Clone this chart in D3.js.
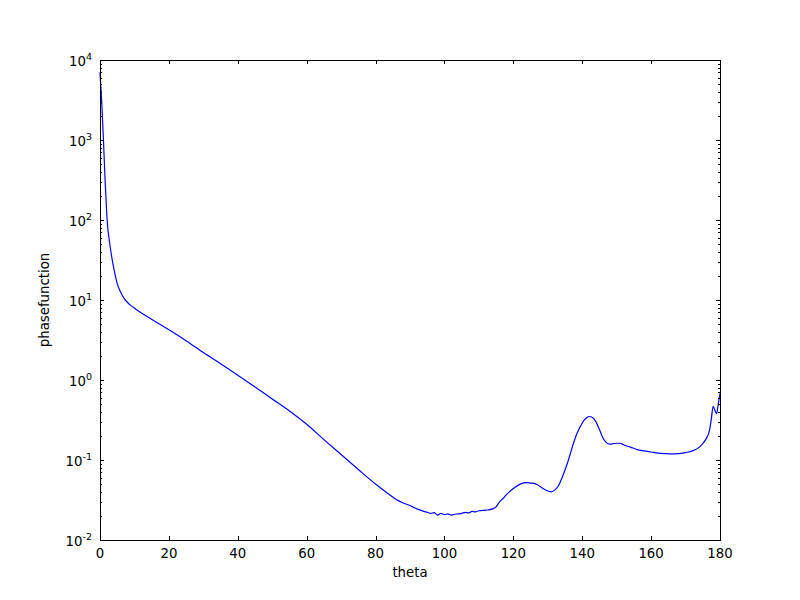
<!DOCTYPE html>
<html><head><meta charset="utf-8">
<script src="https://cdn.jsdelivr.net/npm/d3@7"></script>
<style>body{margin:0;background:#fff}svg{display:block}text{font-family:"DejaVu Sans",sans-serif;fill:#000}</style>
</head><body>
<svg id="c" width="800" height="600"></svg>
<script>
const theta = [0,0.5,1,1.5,2,3,4,5,6,7,8,9,10,12,14,16,18,20,25,30,35,40,45,50,55,60,65,70,75,80,82,84,86,88,90,92,94,95,96,97,98,99,100,101,102,103,104,105,106,107,108,109,110,112,114,115,116,117,118,120,122,124,125,126,127,128,129,130,131,132,133,134,135,136,137,138,139,140,141,142,143,144,145,146,147,148,149,150,151,152,154,156,158,160,162,164,166,168,170,172,174,175,176,177,177.5,178,178.5,179,179.5,180];
const phase = [7000,3000,1000,300,110,45,25,16,12.5,10.5,9.3,8.5,7.9,6.9,6.1,5.4,4.8,4.25,3.1,2.2,1.6,1.15,0.82,0.58,0.41,0.28,0.18,0.117,0.076,0.05,0.043,0.037,0.032,0.029,0.027,0.0245,0.0228,0.0222,0.0215,0.022,0.0205,0.0215,0.0208,0.0212,0.0205,0.021,0.0212,0.0215,0.0222,0.0218,0.0228,0.0225,0.0232,0.0236,0.0245,0.026,0.03,0.033,0.037,0.044,0.05,0.052,0.0515,0.051,0.049,0.046,0.043,0.041,0.04,0.042,0.047,0.058,0.075,0.1,0.14,0.19,0.24,0.29,0.33,0.35,0.34,0.3,0.24,0.19,0.165,0.158,0.16,0.162,0.162,0.155,0.145,0.135,0.13,0.126,0.122,0.12,0.119,0.12,0.124,0.13,0.145,0.16,0.185,0.24,0.33,0.47,0.42,0.38,0.5,0.68];
const xTicks = [0,20,40,60,80,100,120,140,160,180];
const yExps = [-2,-1,0,1,2,3,4];
const xLabel = "theta", yLabel = "phasefunction";

const L=100,R=720,T=60,B=540;
const svg = d3.select("#c");
const x = d3.scaleLinear().domain([0,180]).range([L,R]);
const y = d3.scaleLog().domain([1e-2,1e4]).range([B,T]);

// line
svg.append("path").datum(theta.map((t,i)=>[t,phase[i]]))
  .attr("fill","none").attr("stroke","#0000ff").attr("stroke-width",1.2)
  .attr("d",d3.line().x(d=>x(d[0])).y(d=>y(d[1])).curve(d3.curveMonotoneX));

const g = svg.append("g").attr("stroke","#000").attr("stroke-width",1).attr("shape-rendering","crispEdges");
// x ticks (inward, bottom and top)
xTicks.forEach(v=>{
  const px = Math.round(x(v))+0.5;
  g.append("line").attr("x1",px).attr("x2",px).attr("y1",B).attr("y2",B-4);
  g.append("line").attr("x1",px).attr("x2",px).attr("y1",T).attr("y2",T+4);
});
// y ticks
const minor=[];
yExps.forEach(e=>{
  const py = Math.round(y(Math.pow(10,e)))+0.5;
  g.append("line").attr("x1",L).attr("x2",L+4).attr("y1",py).attr("y2",py);
  g.append("line").attr("x1",R).attr("x2",R-4).attr("y1",py).attr("y2",py);
  if(e<4) for(let k=2;k<10;k++) minor.push(k*Math.pow(10,e));
});
minor.forEach(v=>{
  const py = Math.round(y(v))+0.5;
  g.append("line").attr("x1",L).attr("x2",L+2).attr("y1",py).attr("y2",py);
  g.append("line").attr("x1",R).attr("x2",R-2).attr("y1",py).attr("y2",py);
});
// frame
svg.append("rect").attr("x",L+0.5).attr("y",T+0.5).attr("width",R-L).attr("height",B-T)
  .attr("fill","none").attr("stroke","#000").attr("stroke-width",1).attr("shape-rendering","crispEdges");

// labels
xTicks.forEach(v=>{
  svg.append("text").attr("x",x(v)).attr("y",B+18).attr("text-anchor","middle")
    .attr("font-size",13.3).text(v);
});
yExps.forEach(e=>{
  const t = svg.append("text").attr("x",L-8).attr("y",y(Math.pow(10,e))+6).attr("text-anchor","end").attr("font-size",13.3);
  t.append("tspan").text("10");
  t.append("tspan").attr("font-size",9.5).attr("dy",-6).text(e);
});
svg.append("text").attr("x",(L+R)/2).attr("y",B+37).attr("text-anchor","middle").attr("font-size",13.3).text(xLabel);
svg.append("text").attr("transform",`translate(49,${(T+B)/2}) rotate(-90)`).attr("text-anchor","middle").attr("font-size",13.3).text(yLabel);
</script>
</body></html>
